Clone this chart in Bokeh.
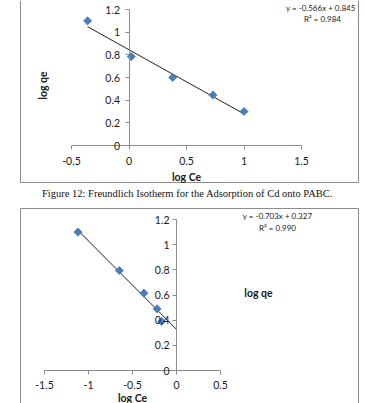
import numpy as np
from bokeh.plotting import figure
from bokeh.layouts import column
from bokeh.models import Label, FixedTicker, Range1d, LinearAxis
from bokeh.embed import file_html
from bokeh.resources import INLINE

# ---------------- data ----------------
# Figure 12 (Freundlich)
fr_log_ce = [-0.36, 0.02, 0.38, 0.73, 1.00]
fr_log_qe = [1.10, 0.785, 0.60, 0.445, 0.30]
fr_slope, fr_intercept = -0.566, 0.845
fr_fit_x = [-0.36, 1.00]
fr_x_ticks = [-0.5, 0, 0.5, 1, 1.5]
fr_x_labels = ["-0.5", "0", "0.5", "1", "1.5"]
fr_y_ticks = [0, 0.2, 0.4, 0.6, 0.8, 1.0, 1.2]
fr_y_labels = ["0", "0.2", "0.4", "0.6", "0.8", "1", "1.2"]
fr_equation = "y = -0.566x + 0.845"
fr_r2 = "R² = 0.984"
caption = "Figure 12: Freundlich Isotherm for the Adsorption of Cd onto PABC."

# second chart
b_log_ce = [-1.12, -0.65, -0.37, -0.22, -0.17]
b_log_qe = [1.10, 0.795, 0.615, 0.49, 0.39]
b_slope, b_intercept = -0.703, 0.327
b_fit_x = [-1.12, 0.0]
b_x_ticks = [-1.5, -1, -0.5, 0, 0.5]
b_x_labels = ["-1.5", "-1", "-0.5", "0", "0.5"]
b_y_ticks = [0, 0.2, 0.4, 0.6, 0.8, 1.0, 1.2]
b_y_labels = ["0", "0.2", "0.4", "0.6", "0.8", "1", "1.2"]
b_equation = "y = -0.703x + 0.327"
b_r2 = "R² = 0.990"

FONT = "Lato"
MARK = "#4A7EBB"
AXC = "#8C8C8C"
TXT = "#1a1a1a"
BORDER = "#8c8c8c"
W = 365


def style(p, xt, xl, yt, yl, xb, yb, ystand, xstand):
    p.grid.visible = False
    p.outline_line_color = None
    for ax in p.xaxis:
        ax.fixed_location = 0
        ax.ticker = FixedTicker(ticks=xt)
        ax.major_label_overrides = {t: l for t, l in zip(xt, xl)}
        ax.bounds = xb
        ax.major_label_standoff = xstand
    for ax in p.yaxis:
        ax.fixed_location = 0
        ax.ticker = FixedTicker(ticks=yt)
        ax.major_label_overrides = {t: l for t, l in zip(yt, yl)}
        ax.bounds = yb
        ax.major_label_standoff = ystand
    for ax in p.axis:
        ax.axis_line_color = AXC
        ax.major_tick_line_color = AXC
        ax.minor_tick_line_color = None
        ax.major_tick_out = 4
        ax.major_tick_in = 0
        ax.major_label_text_font = FONT
        ax.major_label_text_font_size = "10.5px"
        ax.major_label_text_color = TXT


def border_line(p, side, loc, bounds):
    """A plain tick-less axis line used to draw one edge of the chart-area frame."""
    ax = LinearAxis(fixed_location=loc, bounds=bounds, ticker=FixedTicker(ticks=[]),
                    axis_line_color=BORDER, axis_line_width=1,
                    major_tick_line_color=None, minor_tick_line_color=None,
                    major_label_text_alpha=0, axis_label=None)
    p.add_layout(ax, side)


# ---------------- chart 1 ----------------
H1 = 200
# pixel mapping: x_px = 128.5 + 115*x ; y_px = 145 - 113.3*y
X1 = lambda px: (px - 128.5) / 115.0
Y1 = lambda py: (145.0 - py) / 113.3

p1 = figure(width=W, height=H1, output_backend="svg", toolbar_location=None,
            x_range=Range1d(X1(0), X1(W)), y_range=Range1d(Y1(H1), Y1(0)),
            min_border=0)
style(p1, fr_x_ticks, fr_x_labels, fr_y_ticks, fr_y_labels, (-0.5, 1.5), (0, 1.2), 5, 7)

# chart-area border (left, right, bottom)
border_line(p1, "left", X1(20), (Y1(182), Y1(0)))
border_line(p1, "right", X1(358), (Y1(182), Y1(0)))
border_line(p1, "below", Y1(182), (X1(20), X1(358)))

fx = np.array(fr_fit_x)
p1.line(fx, fr_slope * fx + fr_intercept, line_color="#222222", line_width=1)
p1.scatter(fr_log_ce, fr_log_qe, marker="square", angle=np.pi / 4, size=5.8,
           fill_color=MARK, line_color="#3C6AA0", line_width=0.6)

p1.add_layout(Label(x=X1(42), y=Y1(85), text="log qe", angle=np.pi / 2,
                    text_align="center", text_baseline="middle", text_font=FONT,
                    text_font_style="bold", text_font_size="10.5px", text_color=TXT))
p1.add_layout(Label(x=X1(186), y=Y1(176), text="log Ce", text_align="center",
                    text_baseline="middle", text_font=FONT, text_font_style="bold",
                    text_font_size="10.5px", text_color=TXT))
p1.add_layout(Label(x=X1(355), y=Y1(7), text=fr_equation, text_align="right",
                    text_baseline="middle", text_font=FONT, text_font_size="8px", text_color=TXT))
p1.add_layout(Label(x=X1(322), y=Y1(18), text=fr_r2, text_align="center",
                    text_baseline="middle", text_font=FONT, text_font_size="8px", text_color=TXT))
p1.add_layout(Label(x=X1(187), y=Y1(193), text=caption, text_align="center",
                    text_baseline="middle", text_font="Liberation Serif",
                    text_font_size="10.5px", text_color="#111111"))

# ---------------- chart 2 ----------------
H2 = 203
# pixel mapping (local): x_px = 176 + 88*x ; y_px = 170 - 125.8*y
X2 = lambda px: (px - 176.0) / 88.0
Y2 = lambda py: (170.0 - py) / 125.8

p2 = figure(width=W, height=H2, output_backend="svg", toolbar_location=None,
            x_range=Range1d(X2(0), X2(W)), y_range=Range1d(Y2(H2), Y2(0)),
            min_border=0)
style(p2, b_x_ticks, b_x_labels, b_y_ticks, b_y_labels, (-1.5, 0.5), (0, 1.2), 3, 6)

# chart-area border (left, right, top)
border_line(p2, "left", X2(20), (Y2(H2), Y2(8)))
border_line(p2, "right", X2(358), (Y2(H2), Y2(8)))
border_line(p2, "above", Y2(8), (X2(20), X2(358)))

bx = np.array(b_fit_x)
p2.line(bx, b_slope * bx + b_intercept, line_color="#222222", line_width=1)
p2.scatter(b_log_ce, b_log_qe, marker="square", angle=np.pi / 4, size=5.8,
           fill_color=MARK, line_color="#3C6AA0", line_width=0.6)

p2.add_layout(Label(x=X2(258), y=Y2(92), text="log qe", text_align="center",
                    text_baseline="middle", text_font=FONT, text_font_style="bold",
                    text_font_size="10.5px", text_color=TXT))
p2.add_layout(Label(x=X2(132), y=Y2(197), text="log Ce", text_align="center",
                    text_baseline="middle", text_font=FONT, text_font_style="bold",
                    text_font_size="10.5px", text_color=TXT))
p2.add_layout(Label(x=X2(277), y=Y2(15), text=b_equation, text_align="center",
                    text_baseline="middle", text_font=FONT, text_font_size="8px", text_color=TXT))
p2.add_layout(Label(x=X2(277), y=Y2(27), text=b_r2, text_align="center",
                    text_baseline="middle", text_font=FONT, text_font_size="8px", text_color=TXT))

layout = column(p1, p2, spacing=0)
open("out.html", "w").write(file_html(layout, INLINE))
